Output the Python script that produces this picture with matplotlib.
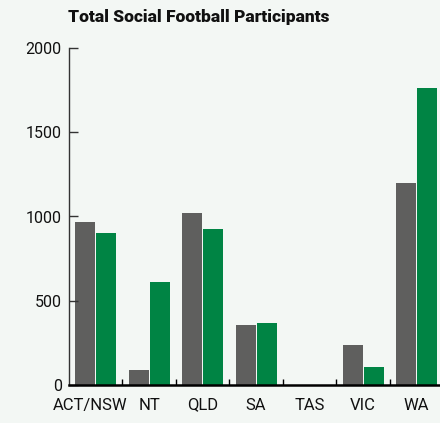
import matplotlib
matplotlib.use("Agg")
import matplotlib.pyplot as plt
import matplotlib.transforms as mtransforms
import numpy as np

# data
states = ["ACT/NSW", "NT", "QLD", "SA", "TAS", "VIC", "WA"]
grey_vals = [967, 88, 1020, 356, 0, 237, 1198]
green_vals = [901, 611, 925, 368, 0, 107, 1762]
y_ticks = [0, 500, 1000, 1500, 2000]

BG = "#f3f7f4"
GREY = "#5f5f5e"
GREEN = "#008444"

plt.rcParams["font.family"] = ["Roboto", "DejaVu Sans"]

fig = plt.figure(figsize=(4.4, 4.23), dpi=100, facecolor=BG)
ax = fig.add_axes([68.8 / 440, 38 / 423, 374.5 / 440, 337 / 423], facecolor=BG)

x = np.arange(len(states))
w = 0.374
off = 0.196
ax.bar(x - off, grey_vals, w, color=GREY, linewidth=0)
ax.bar(x + off, green_vals, w, color=GREEN, linewidth=0)

ax.set_xlim(-0.5, len(states) - 0.5)
ax.set_ylim(0, 2000)

for s in ["top", "right"]:
    ax.spines[s].set_visible(False)
ax.spines["left"].set_color("#333333")
ax.spines["left"].set_linewidth(1.0)
ax.spines["bottom"].set_color("black")
ax.spines["bottom"].set_linewidth(1.8)

ax.set_yticks(y_ticks)
ax.tick_params(axis="y", direction="in", length=6.5, width=1.0, color="#333333",
               labelsize=11.5, pad=5, labelcolor="#111111")

ax.set_xticks(x)
ax.set_xticklabels(states)
ax.tick_params(axis="x", which="major", length=0, labelsize=12, pad=9, labelcolor="#111111")
ax.set_xticks(x[:-1] + 0.5, minor=True)
ax.tick_params(axis="x", which="minor", direction="in", length=4.5, width=1.0, color="black")

# first label sits a bit left of its category in the reference
lab = ax.get_xticklabels()[0]
lab.set_transform(lab.get_transform() + mtransforms.ScaledTranslation(-5 / 100, 0, fig.dpi_scale_trans))

fig.text(68 / 440, 1 - 17 / 423, "Total Social Football Participants", fontsize=12.5,
         fontweight="heavy", ha="left", va="center", color="#111111")

fig.savefig("out.png", dpi=100, facecolor=BG)
